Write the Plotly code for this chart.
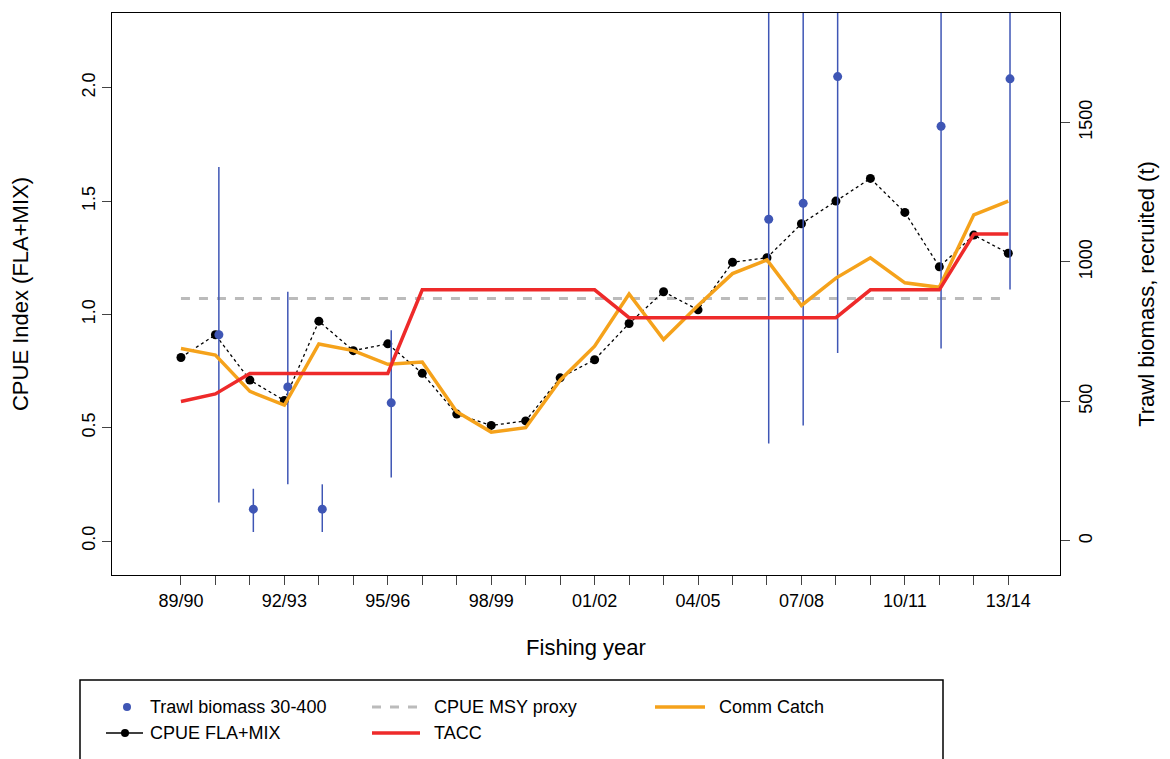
import plotly.graph_objects as go

years = list(range(25))
labels = ["89/90","92/93","95/96","98/99","01/02","04/05","07/08","10/11","13/14"]
label_pos = [0,3,6,9,12,15,18,21,24]

cpue = [0.81,0.91,0.71,0.62,0.97,0.84,0.87,0.74,0.56,0.51,0.53,0.72,0.80,0.96,1.10,1.02,1.23,1.25,1.40,1.50,1.60,1.45,1.21,1.35,1.27]
msy = 1.07
catch_t = [690,666,536,487,706,682,633,641,463,390,406,576,698,885,722,844,958,1007,844,942,1015,925,909,1169,1218]
tacc_t = [500,527,600,600,600,600,600,900,900,900,900,900,900,800,800,800,800,800,800,800,900,900,900,1100,1100]
trawl_x = [1.1,2.1,3.1,4.1,6.1,17.05,18.05,19.05,22.05,24.05]
trawl_t = [739,114,552,114,495,1153,1210,1664,1486,1656]
trawl_lo = [138,32,203,32,227,349,414,674,690,901]
trawl_hi = [1340,187,893,203,755,2100,2100,2100,2100,2100]

BLUE = "#3f56b5"; GRAY = "#bbbbbb"; ORANGE = "#f5a21b"; RED = "#ee2a2a"
fig = go.Figure()
fig.add_trace(go.Scatter(x=trawl_x, y=trawl_t, yaxis="y2", mode="markers",
    marker=dict(color=BLUE, size=9), name="Trawl biomass 30-400",
    error_y=dict(type="data", symmetric=False,
        array=[h-v for h,v in zip(trawl_hi,trawl_t)],
        arrayminus=[v-l for l,v in zip(trawl_lo,trawl_t)],
        color=BLUE, thickness=1.5, width=0)))
fig.add_trace(go.Scatter(x=[0,24], y=[msy,msy], mode="lines",
    line=dict(color=GRAY, width=3, dash="dash"), name="CPUE MSY proxy"))
fig.add_trace(go.Scatter(x=years, y=catch_t, yaxis="y2", mode="lines",
    line=dict(color=ORANGE, width=3.5), name="Comm Catch"))
fig.add_trace(go.Scatter(x=years, y=cpue, mode="lines+markers",
    line=dict(color="black", width=1.3, dash="dot"), marker=dict(color="black", size=9),
    name="CPUE FLA+MIX"))
fig.add_trace(go.Scatter(x=years, y=tacc_t, yaxis="y2", mode="lines",
    line=dict(color=RED, width=3.5), name="TACC"))

# manual legend (page pixel -> plot-area paper coords)
def px(x): return (x-112)/948
def py(y): return (575-y)/562
shapes = [dict(type="rect", xref="paper", yref="paper", x0=px(80), x1=px(943), y0=py(790), y1=py(680),
               line=dict(color="black", width=1.5), fillcolor="rgba(0,0,0,0)")]
anns = []
shapes.append(dict(type="circle", xref="paper", yref="paper", x0=px(123), x1=px(131), y0=py(711), y1=py(703),
                   fillcolor=BLUE, line=dict(color=BLUE, width=0)))
shapes.append(dict(type="line", xref="paper", yref="paper", x0=px(106), x1=px(143), y0=py(733), y1=py(733),
                   line=dict(color="black", width=1.3)))
shapes.append(dict(type="circle", xref="paper", yref="paper", x0=px(121), x1=px(129), y0=py(737), y1=py(729),
                   fillcolor="black", line=dict(color="black", width=0)))
shapes.append(dict(type="line", xref="paper", yref="paper", x0=px(372), x1=px(420), y0=py(707), y1=py(707),
                   line=dict(color=GRAY, width=3, dash="dash")))
shapes.append(dict(type="line", xref="paper", yref="paper", x0=px(372), x1=px(420), y0=py(733), y1=py(733),
                   line=dict(color=RED, width=3.5)))
shapes.append(dict(type="line", xref="paper", yref="paper", x0=px(655), x1=px(705), y0=py(707), y1=py(707),
                   line=dict(color=ORANGE, width=3.5)))
for x, y, t in [(148,707,"Trawl biomass 30-400"),(148,733,"CPUE FLA+MIX"),(432,707,"CPUE MSY proxy"),
                (432,733,"TACC"),(717,707,"Comm Catch")]:
    anns.append(dict(xref="paper", yref="paper", x=px(x), y=py(y), text=t, showarrow=False,
                     xanchor="left", yanchor="middle", font=dict(size=18)))

font = dict(family="Liberation Sans, Arial", size=18, color="black")
fig.update_layout(
    width=1170, height=759, plot_bgcolor="white", paper_bgcolor="white",
    margin=dict(l=104, r=118, t=5, b=192, autoexpand=False), font=font, showlegend=False,
    shapes=shapes, annotations=anns,
    xaxis=dict(range=[-2.0, 25.5], tickvals=years,
        ticktext=[labels[label_pos.index(y)] if y in label_pos else "" for y in years],
        ticks="outside", ticklen=9, showgrid=False, zeroline=False,
        showline=True, linecolor="black", mirror=True, tickfont=dict(size=18),
        title=dict(text="Fishing year", standoff=30)),
    yaxis=dict(range=[-0.15, 2.33], tickvals=[0,0.5,1,1.5,2],
        ticktext=["0.0","0.5","1.0","1.5","2.0"], tickangle=-90,
        ticks="outside", ticklen=9, showgrid=False, zeroline=False,
        showline=True, linecolor="black", mirror=True, tickfont=dict(size=18),
        title=dict(text="CPUE Index (FLA+MIX)", standoff=46)),
    yaxis2=dict(range=[-122, 1892], overlaying="y", side="right",
        tickvals=[0,500,1000,1500], tickangle=-90, tickfont=dict(size=18),
        ticks="outside", ticklen=9, showgrid=False, zeroline=False,
        title=dict(text="Trawl biomass, recruited (t)", standoff=44)),
)
fig.write_html("out.html")
